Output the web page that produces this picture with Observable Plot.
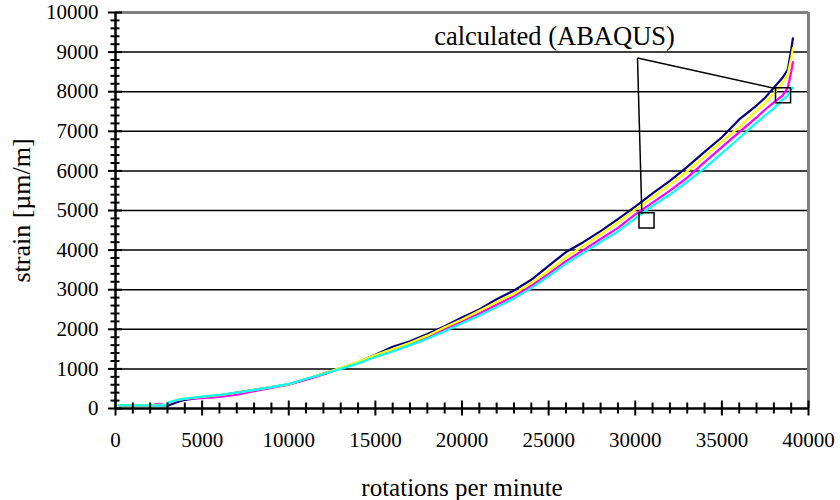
<!DOCTYPE html>
<html>
<head>
<meta charset="utf-8">
<script src="https://cdn.jsdelivr.net/npm/d3@7"></script>
<script src="https://cdn.jsdelivr.net/npm/@observablehq/plot@0.6"></script>
<style>
  html, body { margin: 0; padding: 0; background: #fff; }
  #chart { width: 840px; height: 500px; }
</style>
</head>
<body>
<div id="chart"></div>
<script>
// ---- data ----
const rpm = [200, 1000, 2000, 2500, 2900, 3100, 3500, 4000, 5000, 6000, 7000, 8000, 9000, 10000, 11000, 12000, 13000, 14000, 15000, 16000, 17000, 18000, 19000, 20000, 21000, 22000, 23000, 24000, 25000, 26000, 27000, 28000, 29000, 30000, 31000, 32000, 33000, 34000, 35000, 36000, 37000, 37500, 38000, 38500, 38800, 39000, 39100];

const navyStrain    = [80, 80, 80, 80, 80, 80, 150, 220, 280, 330, 400, 470, 540, 610, 740, 880, 1020, 1170, 1360, 1560, 1700, 1880, 2080, 2300, 2500, 2760, 2980, 3250, 3600, 3950, 4200, 4480, 4780, 5100, 5430, 5750, 6100, 6480, 6850, 7300, 7650, 7850, 8100, 8350, 8550, 9050, 9350];
const magentaStrain = [80, 80, 80, 120, 80, 140, 200, 240, 260, 290, 350, 440, 520, 600, 730, 860, 1010, 1160, 1320, 1480, 1620, 1800, 2000, 2200, 2400, 2620, 2830, 3100, 3400, 3720, 4000, 4280, 4560, 4900, 5200, 5500, 5830, 6220, 6600, 6980, 7350, 7550, 7730, 7900, 8100, 8500, 8750];
const yellowStrain  = [80, 80, 80, 90, 80, 150, 210, 250, 295, 340, 400, 470, 540, 610, 750, 880, 1030, 1180, 1350, 1500, 1660, 1840, 2050, 2250, 2470, 2690, 2900, 3170, 3480, 3820, 4100, 4400, 4700, 5020, 5330, 5660, 5990, 6370, 6750, 7100, 7530, 7720, 7960, 8220, 8450, 8850, 9100];
const cyanStrain    = [80, 80, 80, 80, 80, 160, 210, 250, 300, 345, 400, 470, 540, 620, 750, 870, 1000, 1140, 1300, 1440, 1600, 1760, 1950, 2150, 2350, 2560, 2780, 3040, 3340, 3660, 3930, 4210, 4470, 4800, 5120, 5400, 5730, 6070, 6450, 6830, 7220, 7400, 7580, 7800, 7900, 8050, 8100];

const seriesNames  = ["navy", "magenta", "yellow", "cyan"];
const seriesColors = ["#000080", "#ff00ff", "#ffff00", "#00ffff"];
const seriesValues = [navyStrain, magentaStrain, yellowStrain, cyanStrain];

// calculated (ABAQUS) points
const calcRpm    = [30650, 38530];
const calcStrain = [4750, 7910];

// annotation
const annotationText = "calculated (ABAQUS)";
const annotationRpm = 25340, annotationStrain = 9190;
const leaderFromRpm = 30130, leaderFromStrain = 8850;
const leaderToRpm    = [30380, 38130];
const leaderToStrain = [4920, 8076];

// axes
const xDomain = [0, 40000];
const yDomain = [0, 10000];
const xMajor = d3.range(0, 40001, 5000);
const xMinor = d3.range(0, 40001, 1000).filter(d => d % 5000 !== 0);
const yMajor = d3.range(0, 10001, 1000);
const yMinor = d3.range(0, 10001, 200).filter(d => d % 1000 !== 0);
const yGrid  = d3.range(1000, 9001, 1000);

const xLabel = "rotations per minute";
const yLabel = "strain [µm/m]";

// ---- build ----
const tables = seriesValues.map(vals => rpm.map((r, i) => ({rpm: r, strain: vals[i]})));
const calcPts = calcRpm.map((r, i) => ({rpm: r, strain: calcStrain[i]}));
const leaders = leaderToRpm.map((r, i) => ({x1: leaderFromRpm, y1: leaderFromStrain, x2: r, y2: leaderToStrain[i]}));

const font = "'Liberation Serif', 'Times New Roman', serif";

const W = 840, H = 500, mL = 115, mR = 32, mT = 12, mB = 92;
const frameW = W - mL - mR, frameH = H - mT - mB;
// data units per pixel (used to give tick stubs a pixel length)
const kx = (xDomain[1] - xDomain[0]) / frameW;
const ky = (yDomain[1] - yDomain[0]) / frameH;

const yStub = (half) => ({x1: xDomain[0] - half * kx, x2: xDomain[0] + half * kx});
const xStub = (half) => ({y1: yDomain[0] - half * ky, y2: yDomain[0] + half * ky});

const chart = Plot.plot({
  width: W,
  height: H,
  marginLeft: mL,
  marginRight: mR,
  marginTop: mT,
  marginBottom: mB,
  style: {fontFamily: font, fontSize: "21px", color: "#000", background: "#fff"},
  x: {domain: xDomain, axis: null},
  y: {domain: yDomain, axis: null},
  marks: [
    Plot.ruleY(yGrid, {stroke: "#000", strokeWidth: 1.5}),
    Plot.ruleY([yDomain[1]], {stroke: "#808080", strokeWidth: 3}),
    Plot.ruleX([xDomain[1]], {stroke: "#808080", strokeWidth: 3}),
    ...tables.map((t, i) => Plot.line(t, {x: "rpm", y: "strain", stroke: seriesColors[i], strokeWidth: 2.2})),
    Plot.link(leaders, {x1: "x1", y1: "y1", x2: "x2", y2: "y2", stroke: "#000", strokeWidth: 1.5}),
    Plot.dot(calcPts, {x: "rpm", y: "strain", symbol: "square", r: 8.5, stroke: "#000", strokeWidth: 1.5, fill: "none"}),
    Plot.text([annotationText], {x: annotationRpm, y: annotationStrain, text: d => d, fontSize: 26.5, lineAnchor: "bottom", textAnchor: "middle", fill: "#000"}),
    // axis lines
    Plot.ruleX([xDomain[0]], {stroke: "#000", strokeWidth: 2.5}),
    Plot.ruleY([yDomain[0]], {stroke: "#000", strokeWidth: 2.5}),
    // tick labels
    Plot.text(yMajor, {x: xDomain[0], y: d => d, text: d => String(d), textAnchor: "end", lineAnchor: "middle", dx: -17, fontSize: 21, fill: "#000"}),
    Plot.text(xMajor, {x: d => d, y: yDomain[0], text: d => String(d), textAnchor: "middle", lineAnchor: "middle", dy: 32, fontSize: 21, fill: "#000"}),
    // axis titles
    Plot.text([xLabel], {frameAnchor: "bottom", dy: 79, text: d => d, fontSize: 25, textAnchor: "middle", lineAnchor: "middle", fill: "#000"}),
    Plot.text([yLabel], {frameAnchor: "left", dx: -94, rotate: -90, text: d => d, fontSize: 26, textAnchor: "middle", lineAnchor: "middle", fill: "#000"}),
    // tick stubs crossing the axes (drawn last)
    Plot.ruleY(yMajor, {y: d => d, ...yStub(7), stroke: "#000", strokeWidth: 2}),
    Plot.ruleY(yMinor, {y: d => d, ...yStub(4.5), stroke: "#000", strokeWidth: 2}),
    Plot.ruleX(xMajor, {x: d => d, ...xStub(7.5), stroke: "#000", strokeWidth: 2}),
    Plot.ruleX(xMinor, {x: d => d, ...xStub(5.5), stroke: "#000", strokeWidth: 2})
  ]
});

document.getElementById("chart").appendChild(chart);
</script>
</body>
</html>
